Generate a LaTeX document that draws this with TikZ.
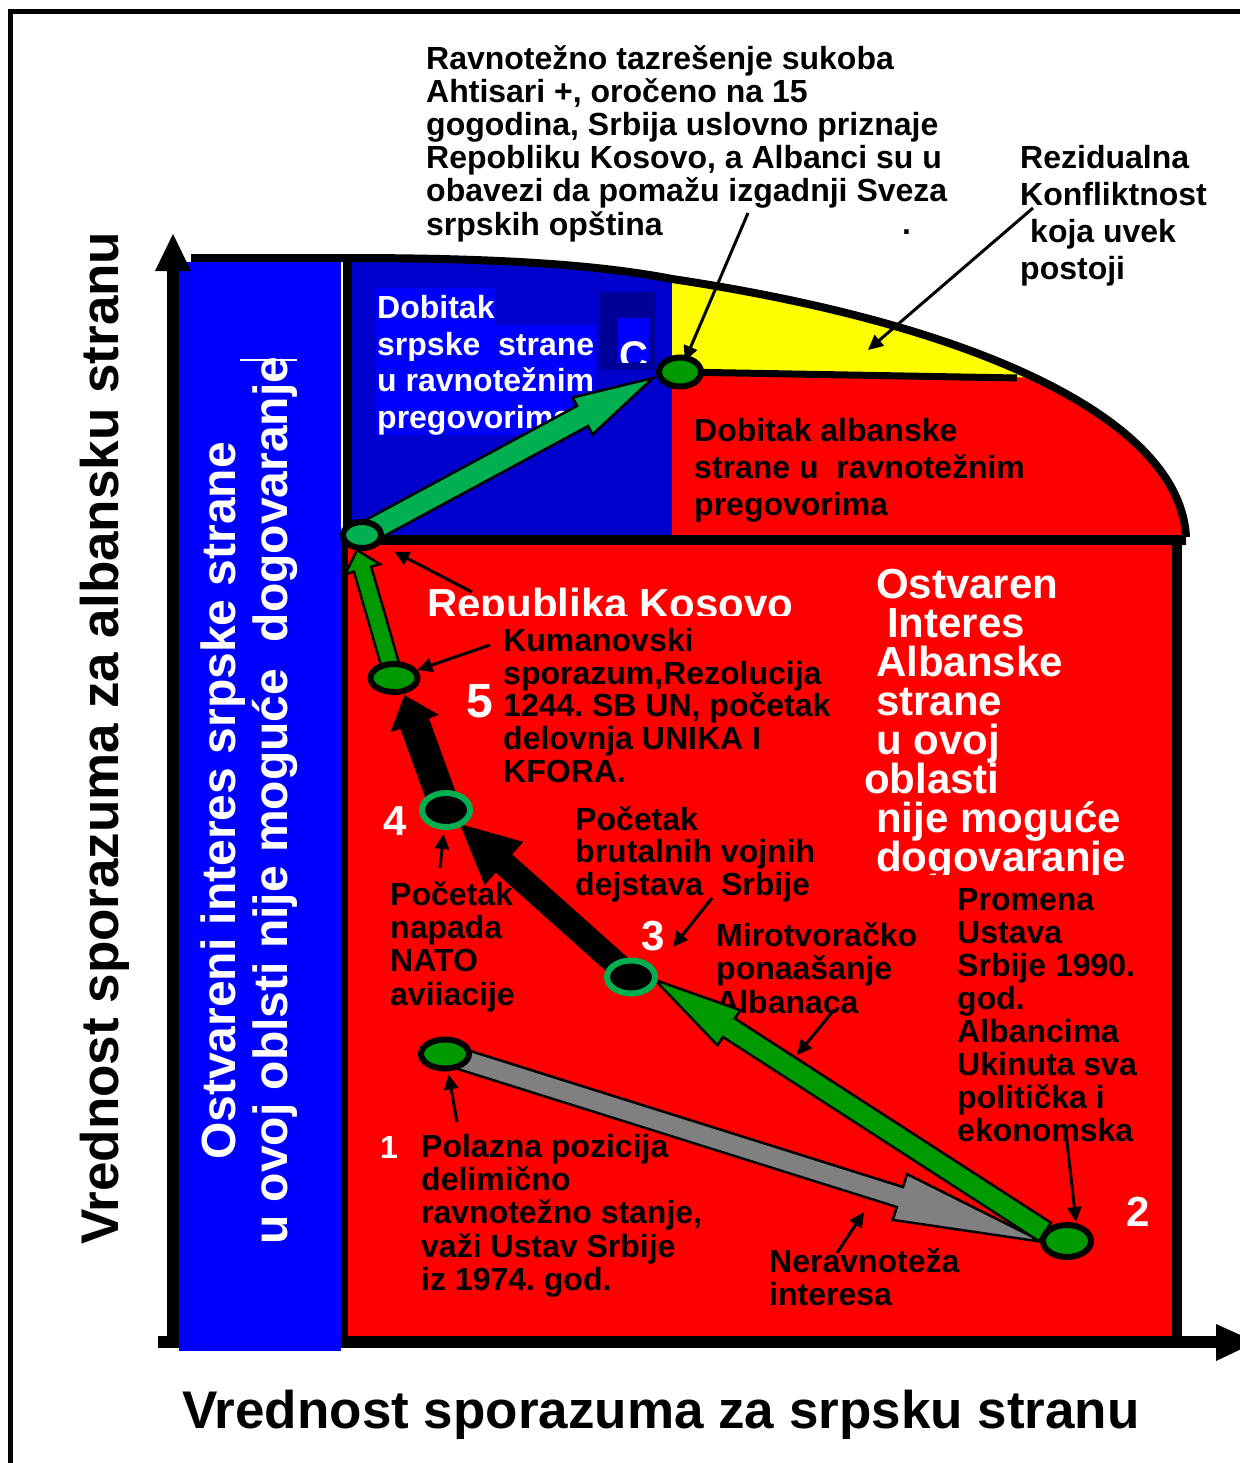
\documentclass[tikz,border=0pt]{standalone}
\usepackage{fontspec}
\setmainfont{Liberation Sans}
\usetikzlibrary{calc,arrows.meta,shapes.geometric}
\definecolor{rd}{RGB}{255,0,0}
\definecolor{bl}{RGB}{0,0,255}
\definecolor{dbl}{RGB}{0,0,204}
\definecolor{nv}{RGB}{0,0,153}
\definecolor{yl}{RGB}{255,255,0}
\definecolor{gA}{RGB}{0,153,0}
\definecolor{gB}{RGB}{0,176,80}
\definecolor{gr}{RGB}{128,128,128}
\frenchspacing
\newcommand\fs[2]{\fontsize{#1}{#2}\selectfont\bfseries\frenchspacing\lineskiplimit=-100pt\lineskip=0pt}
\newcommand\blockarrow[6]{%
  \coordinate (ba-h) at ($(#2)!#5!(#1)$);
  \draw[#6] ($(#1)!#3!90:(#2)$) -- ($(ba-h)!#3!90:(#2)$) -- ($(ba-h)!#4!90:(#2)$) -- (#2)
    -- ($(ba-h)!#4!-90:(#2)$) -- ($(ba-h)!#3!-90:(#2)$) -- ($(#1)!#3!-90:(#2)$) -- cycle;}
\tikzset{
  txt/.style={anchor=north west, align=left, inner sep=0pt, execute at begin node={\rule{0pt}{31pt}}},
  txtw/.style={anchor=north west, align=left, inner sep=0pt, text=white, execute at begin node={\rule{0pt}{40pt}}},
  num/.style={anchor=base west, inner sep=0pt, text=white},
  hl/.style={anchor=base west, fill=bl, text=white, inner xsep=1pt, inner ysep=0pt, text height=30pt, text depth=7pt, font=\fs{32}{37}},
  elG/.style={ellipse, draw=black, fill=gA, line width=6pt, inner sep=0pt},
  elL/.style={ellipse, draw=black, fill=gB, line width=6pt, inner sep=0pt},
  elB/.style={ellipse, draw=gB, fill=black, line width=6pt, inner sep=0pt},
  thinarr/.style={line width=3pt, -{Triangle[length=15pt,width=14pt]}},
  blk/.style={draw=black, line width=2.5pt, line join=miter}
}
\begin{document}
\begin{tikzpicture}[x=1pt,y=-1pt]
\useasboundingbox (0,0) rectangle (1239,1463);
\fill[white] (0,0) rectangle (1239,1463);
% outer frame
\draw[line width=5pt] (8,12) -- (1245,12);
\draw[line width=5pt] (10,12) -- (10,1470);
% main red box
\fill[rd] (343,540) rectangle (1177,1343);
% upper regions
\fill[dbl] (347,258) .. controls (500,258) and (600,265) .. (672,279) -- (672,540) -- (347,540) -- cycle;
\fill[rd] (672,279) .. controls (980,325) and (1180,420) .. (1186,537) -- (1186,545) -- (672,545) -- cycle;
\begin{scope}
  \clip (672,279) .. controls (980,325) and (1180,420) .. (1186,537) -- (672,537) -- cycle;
  \fill[yl] (660,250) -- (1120,250) -- (1120,379) -- (672,372) -- cycle;
\end{scope}
\draw[line width=7pt] (680,372) -- (1017,378);
\draw[line width=8pt] (191,258) -- (347,258) .. controls (500,258) and (600,265) .. (672,279)
   .. controls (980,325) and (1180,420) .. (1186,537);
\draw[line width=9pt] (347,255) -- (347,540);
\draw[line width=10pt] (343,540) -- (1186,540);
\draw[line width=10pt] (343,540) -- (343,1343);
\draw[line width=10pt] (1177,537) -- (1177,1343);
% x axis
\draw[line width=12pt] (158,1342) -- (1220,1342);
\fill (1216,1324) -- (1256,1342) -- (1216,1361) -- cycle;
% blue band
\fill[bl] (179,262) rectangle (341,1351);
% y axis
\draw[line width=12pt] (173,1345) -- (173,268);
\fill (155,271) -- (173,234) -- (191,271) -- cycle;
\draw[line width=2pt, white] (240,360) -- (297,360);
% band texts
\node[rotate=90, anchor=base west, inner sep=0pt, text=white, font=\fs{48}{52}] (band1) at (235,1160) {Ostvareni interes srpske strane};
\node[rotate=90, anchor=base west, inner sep=0pt, text=white, font=\fs{48}{52}] (band2) at (287,1245) {u ovoj oblsti nije moguće\ \ dogovaranje};
% axis labels
\node[anchor=base, inner sep=0pt, font=\fs{53}{60}] (xlab) at (661,1428) {Vrednost sporazuma za srpsku stranu};
\node[rotate=90, anchor=base west, inner sep=0pt, font=\fs{53}{60}] (ylab) at (118,1245) {Vrednost sporazuma za albansku stranu};
% serbian gain highlighted text
\node[hl] (ds1) at (376,318) {Dobitak};
\node[hl] (ds2) at (376,355) {srpske\ \ strane};
\node[hl] (ds3) at (376,391) {u ravnotežnim};
\node[hl] (ds4) at (376,428) {pregovorima};
% C box
\fill[nv] (600,292) rectangle (655,370);
\fill[bl] (618,318) rectangle (649,362);
\begin{scope}
  \clip (600,292) rectangle (655,362);
  \node[num, font=\fs{40}{44}] (labC) at (619,369) {C};
\end{scope}
% labels
\node[txt, font=\fs{32}{33.2}] (tTop) at (426,45) {Ravnotežno tazrešenje sukoba\\Ahtisari +, oročeno na 15\\gogodina, Srbija uslovno priznaje\\Repobliku Kosovo, a Albanci su u\\obavezi da pomažu izgadnji Sveza\\srpskih opština};
\node[anchor=base west, inner sep=0pt, font=\fs{32}{33}] (dot) at (902,235) {.};
\node[txt, font=\fs{32}{37}] (tRez) at (1020,145) {Rezidualna\\Konfliktnost\\\hspace*{10pt}koja uvek\\postoji};
\node[txt, font=\fs{32}{37}] (tAlb) at (694,418) {Dobitak albanske\\strane u\ \ ravnotežnim\\pregovorima};
\begin{scope}
  \clip (400,560) rectangle (820,615);
  \node[num, font=\fs{42}{46}] (tRep) at (427,618) {Republika Kosovo};
\end{scope}
\begin{scope}
  \clip (850,550) rectangle (1170,874);
  \node[txtw, font=\fs{42}{39}] (tOst) at (876,569) {Ostvaren\\\hspace*{11pt}Interes\\Albanske\\strane\\u ovoj\\\hspace*{-12pt}oblasti\\nije moguće\\dogovaranje};
\end{scope}
\node[txt, font=\fs{32}{32.8}] (tKum) at (503,628) {Kumanovski\\sporazum,Rezolucija\\1244. SB UN, početak\\delovnja UNIKA I\\KFORA.};
\node[num, font=\fs{48}{50}] (lab5) at (466,717) {5};
\node[num, font=\fs{42}{46}] (lab4) at (383,835) {4};
\begin{scope}
  \clip (630,900) rectangle (690,953);
  \node[num, font=\fs{42}{46}] (lab3) at (641,950) {3};
\end{scope}
\node[txt, font=\fs{32}{32.5}] (tBrut) at (575,806) {Početak\\brutalnih vojnih\\dejstava\ \ Srbije};
\node[txt, font=\fs{32}{33.3}] (tNato) at (390,881) {Početak\\napada\\NATO\\aviiacije};
\node[txt, font=\fs{32}{33.5}] (tMir) at (716,922) {Mirotvoračko\\ponaašanje\\Albanaca};
\node[txt, font=\fs{32}{33.1}] (tPro) at (957,888) {Promena\\Ustava\\Srbije 1990.\\god.\\Albancima\\Ukinuta sva\\politička i\\ekonomska};
\node[num, font=\fs{32}{34}] (lab1) at (380,1158) {1};
\node[txt, font=\fs{32}{33.2}] (tPol) at (421,1134) {Polazna pozicija\\delimično\\ravnotežno stanje,\\važi Ustav Srbije\\iz 1974. god.};
\node[txt, font=\fs{32}{33}] (tNer) at (769,1248) {Neravnoteža\\interesa};
\begin{scope}
  \clip (1110,1180) rectangle (1170,1226);
  \node[num, font=\fs{42}{46}] (lab2) at (1126,1226) {2};
\end{scope}
% positions of the states
\coordinate (pC) at (680,372);
\coordinate (pK) at (362,535);
\coordinate (p5) at (394,678);
\coordinate (p4) at (446,810);
\coordinate (p3) at (631,977);
\coordinate (p1) at (445,1054);
\coordinate (p2) at (1067,1241);
% arrow ends
\coordinate (t12) at (1043,1242);
\coordinate (s23) at (1045,1232);
\coordinate (t23) at (655,980);
\coordinate (t34) at (462,826);
\coordinate (t45) at (405,697);
\coordinate (t5K) at (357,550);
\coordinate (tKC) at (653,378);
% block arrows
\blockarrow{p1}{t12}{10.5pt}{24pt}{150pt}{blk, fill=gr}
\blockarrow{s23}{t23}{11pt}{21pt}{88pt}{blk, fill=gA}
\blockarrow{p3}{t34}{11pt}{27pt}{55pt}{blk, fill=black}
\blockarrow{p4}{t45}{14pt}{23pt}{27pt}{blk, fill=black}
\blockarrow{p5}{t5K}{9pt}{18pt}{20pt}{blk, fill=gA}
\blockarrow{pK}{tKC}{11.5pt}{21pt}{80pt}{blk, fill=gB}
% state nodes
\node[elG, minimum width=42pt, minimum height=29pt] (nC) at (pC) {};
\node[elL, minimum width=38pt, minimum height=26pt] (nK) at (pK) {};
\node[elG, minimum width=47pt, minimum height=28pt] (n5) at (p5) {};
\node[elB, minimum width=48pt, minimum height=34pt] (n4) at (p4) {};
\node[elB, minimum width=48pt, minimum height=33pt] (n3) at (p3) {};
\node[elG, minimum width=48pt, minimum height=29pt] (n1) at (p1) {};
\node[elG, minimum width=48pt, minimum height=32pt] (n2) at (p2) {};
% thin pointer arrows
\coordinate (aTop) at (748,213);
\coordinate (aRez) at (1033,208);
\coordinate (eRez) at (868,350);
\coordinate (aRep) at (472,592);
\coordinate (aKum) at (490,645);
\coordinate (a4) at (440,868);
\coordinate (aBrut) at (712,898);
\coordinate (eBrut) at (673,947);
\coordinate (aMir) at (834,1010);
\coordinate (eMir) at (797,1055);
\coordinate (a1) at (457,1122);
\coordinate (aNer) at (837,1253);
\coordinate (eNer) at (864,1212);
\coordinate (aPro) at (1066,1133);
\coordinate (ePro) at (1076,1222);
\draw[thinarr, shorten >=12pt] (aTop) -- (nC.center);
\draw[thinarr] (aRez) -- (eRez);
\draw[thinarr, shorten >=16pt] (aRep) -- (nK);
\draw[thinarr] (aKum) -- (n5);
\draw[thinarr, shorten >=4pt] (a4) -- (n4);
\draw[thinarr] (aBrut) -- (eBrut);
\draw[thinarr] (aMir) -- (eMir);
\draw[thinarr, shorten >=3pt] (a1) -- (n1);
\draw[thinarr] (aNer) -- (eNer);
\draw[thinarr] (aPro) -- (ePro);
\end{tikzpicture}
\end{document}
